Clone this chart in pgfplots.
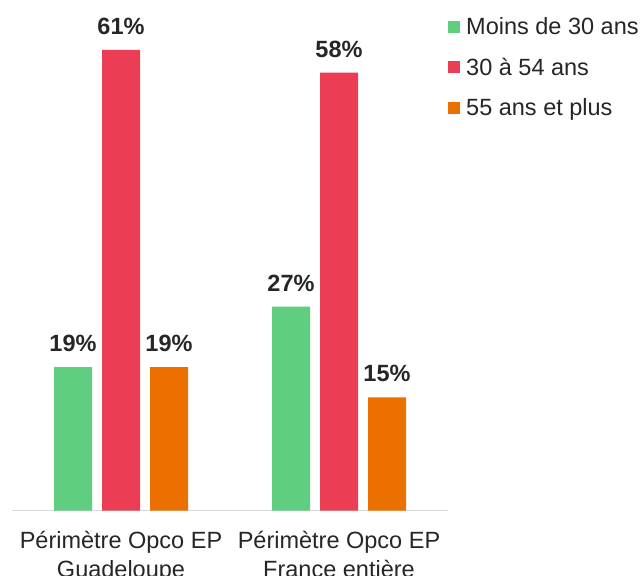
\documentclass[border=0pt]{standalone}
\usepackage{pgfplots}
\pgfplotsset{compat=1.18}
\usepackage{fontspec}
\setmainfont{Liberation Sans}
\definecolor{cgreen}{RGB}{95,206,128}
\definecolor{cred}{RGB}{235,61,84}
\definecolor{corange}{RGB}{236,112,0}
\definecolor{caxis}{RGB}{217,217,217}
\begin{document}
\begin{tikzpicture}
\path[use as bounding box] (0,0) rectangle (644pt,575pt);
\begin{axis}[
  at={(12pt,64.5pt)}, anchor=south west,
  scale only axis,
  width=436pt, height=509.6pt,
  ybar=10pt, bar width=38pt,
  xmin=-0.5, xmax=1.5, ymin=0, ymax=67.5,
  /pgf/number format/assume math mode=true,
  axis x line*=bottom, axis y line=none,
  x axis line style={caxis, line width=1.5pt, -},
  xtick={0,1}, major tick length=0pt,
  xticklabels={{Périmètre Opco EP\\Guadeloupe},{Périmètre Opco EP\\France entière}},
  xticklabel style={font=\fontsize{23.5}{29}\selectfont, align=center, text=black!85, inner sep=0pt, yshift=-20pt},
  nodes near coords={\pgfmathprintnumber{\pgfplotspointmeta}\%},
  nodes near coords style={font=\fontsize{23.5}{28}\selectfont\bfseries, text=black!85, inner sep=0pt, anchor=south, yshift=15pt},
  legend style={draw=none, fill=none, inner sep=0pt, at={(axis description cs:1,0.972)}, anchor=north west,
    font=\fontsize{23.5}{28}\selectfont, text=black!85, row sep=18pt, column sep=4pt,
    legend cell align=left},
  legend image code/.code={\fill[#1] (0pt,-6pt) rectangle (12pt,6pt);},
]
\addplot[draw=none, fill=cgreen] coordinates {(0,19) (1,27)};
\addlegendentry{Moins de 30 ans}
\addplot[draw=none, fill=cred] coordinates {(0,61) (1,58)};
\addlegendentry{30 à 54 ans}
\addplot[draw=none, fill=corange] coordinates {(0,19) (1,15)};
\addlegendentry{55 ans et plus}
\end{axis}
\end{tikzpicture}
\end{document}
